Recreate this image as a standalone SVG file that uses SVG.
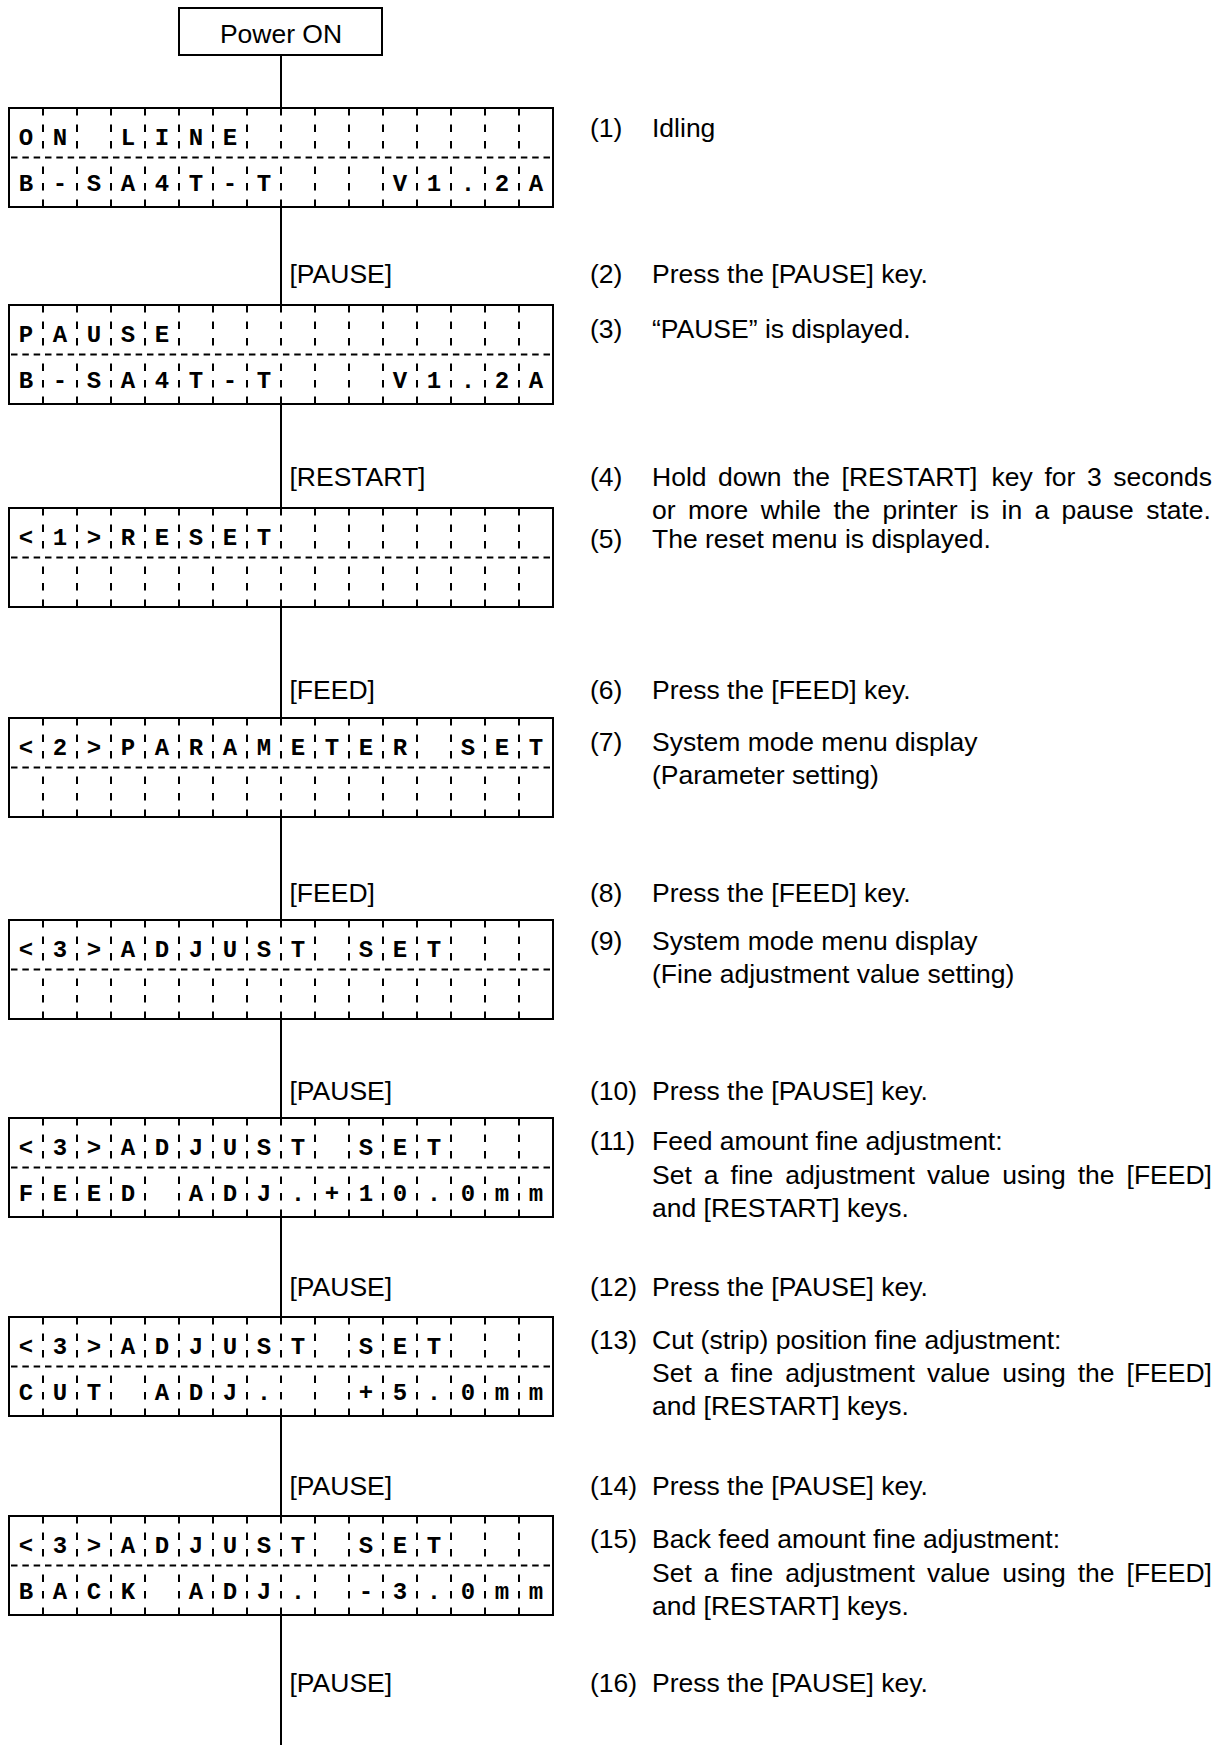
<svg xmlns="http://www.w3.org/2000/svg" xmlns:xlink="http://www.w3.org/1999/xlink" width="1223" height="1753" viewBox="0 0 1223 1753">
<style>
.box{fill:#fff;stroke:#000;stroke-width:2}
.vd{fill:none;stroke:#000;stroke-width:2;stroke-dasharray:7.5 9}
.hd{fill:none;stroke:#000;stroke-width:2;stroke-dasharray:6.5 4.83}
.lcd{font-family:"Liberation Mono","DejaVu Sans Mono",monospace;font-weight:bold;font-size:24px;text-anchor:middle;fill:#000}
.t{font-family:"Liberation Sans",Arial,sans-serif;font-size:26.5px;fill:#000}
.c{text-anchor:middle}
.conn{stroke:#000;stroke-width:2;fill:none}
</style>
<defs>
<g id="grid">
<rect class="box" x="0" y="0" width="544" height="99"/>
<path class="vd" d="M34 0V49.5M68 0V49.5M102 0V49.5M136 0V49.5M170 0V49.5M204 0V49.5M238 0V49.5M272 0V49.5M306 0V49.5M340 0V49.5M374 0V49.5M408 0V49.5M442 0V49.5M476 0V49.5M510 0V49.5"/>
<path class="vd" d="M34 99V49.5M68 99V49.5M102 99V49.5M136 99V49.5M170 99V49.5M204 99V49.5M238 99V49.5M272 99V49.5M306 99V49.5M340 99V49.5M374 99V49.5M408 99V49.5M442 99V49.5M476 99V49.5M510 99V49.5"/>
<path class="hd" d="M2 49.5H543"/>
</g>
</defs>

<g id="connectors">
<path class="conn" d="M281 55V108M281 207V305M281 404V508M281 607V718M281 817V920M281 1019V1118M281 1217V1317M281 1416V1516M281 1615V1745"/>
</g>

<g id="power-on">
<rect class="box" x="179" y="8" width="203" height="47"/>
<text class="t c" x="281" y="43">Power ON</text>
</g>

<g id="lcd1" transform="translate(9 108)">
<use xlink:href="#grid"/>
<text class="lcd" x="17 51 119 153 187 221" y="36.5">ONLINE</text>
<text class="lcd" x="17 51 85 119 153 187 221 255 391 425 459 493 527" y="82.5">B-SA4T-TV1.2A</text>
</g>

<g id="lcd2" transform="translate(9 305)">
<use xlink:href="#grid"/>
<text class="lcd" x="17 51 85 119 153" y="36.5">PAUSE</text>
<text class="lcd" x="17 51 85 119 153 187 221 255 391 425 459 493 527" y="82.5">B-SA4T-TV1.2A</text>
</g>

<g id="lcd3" transform="translate(9 508)">
<use xlink:href="#grid"/>
<text class="lcd" x="17 51 85 119 153 187 221 255" y="36.5">&lt;1&gt;RESET</text>
</g>

<g id="lcd4" transform="translate(9 718)">
<use xlink:href="#grid"/>
<text class="lcd" x="17 51 85 119 153 187 221 255 289 323 357 391 459 493 527" y="36.5">&lt;2&gt;PARAMETERSET</text>
</g>

<g id="lcd5" transform="translate(9 920)">
<use xlink:href="#grid"/>
<text class="lcd" x="17 51 85 119 153 187 221 255 289 357 391 425" y="36.5">&lt;3&gt;ADJUSTSET</text>
</g>

<g id="lcd6" transform="translate(9 1118)">
<use xlink:href="#grid"/>
<text class="lcd" x="17 51 85 119 153 187 221 255 289 357 391 425" y="36.5">&lt;3&gt;ADJUSTSET</text>
<text class="lcd" x="17 51 85 119 187 221 255 289 323 357 391 425 459 493 527" y="82.5">FEEDADJ.+10.0mm</text>
</g>

<g id="lcd7" transform="translate(9 1317)">
<use xlink:href="#grid"/>
<text class="lcd" x="17 51 85 119 153 187 221 255 289 357 391 425" y="36.5">&lt;3&gt;ADJUSTSET</text>
<text class="lcd" x="17 51 85 153 187 221 255 357 391 425 459 493 527" y="82.5">CUTADJ.+5.0mm</text>
</g>

<g id="lcd8" transform="translate(9 1516)">
<use xlink:href="#grid"/>
<text class="lcd" x="17 51 85 119 153 187 221 255 289 357 391 425" y="36.5">&lt;3&gt;ADJUSTSET</text>
<text class="lcd" x="17 51 85 119 187 221 255 289 357 391 425 459 493 527" y="82.5">BACKADJ.-3.0mm</text>
</g>

<g id="key-labels">
<text class="t" x="289.5" y="283">[PAUSE]</text>
<text class="t" x="289.5" y="486">[RESTART]</text>
<text class="t" x="289.5" y="699">[FEED]</text>
<text class="t" x="289.5" y="902">[FEED]</text>
<text class="t" x="289.5" y="1100">[PAUSE]</text>
<text class="t" x="289.5" y="1296">[PAUSE]</text>
<text class="t" x="289.5" y="1495">[PAUSE]</text>
<text class="t" x="289.5" y="1692">[PAUSE]</text>
</g>

<g id="steps">
<text class="t" x="590" y="137">(1)</text><text class="t" x="652" y="137">Idling</text>
<text class="t" x="590" y="283">(2)</text><text class="t" x="652" y="283">Press the [PAUSE] key.</text>
<text class="t" x="590" y="338">(3)</text><text class="t" x="652" y="338">“PAUSE” is displayed.</text>
<text class="t" x="590" y="486">(4)</text>
<text class="t" y="486"><tspan x="652">Hold</tspan><tspan x="718.1">down</tspan><tspan x="793.06">the</tspan><tspan x="841.52">[RESTART]</tspan><tspan x="991.55">key</tspan><tspan x="1044.4">for</tspan><tspan x="1086.95">3</tspan><tspan x="1113.3">seconds</tspan></text>
<text class="t" y="519"><tspan x="652">or</tspan><tspan x="687.92">more</tspan><tspan x="760.65">while</tspan><tspan x="833.38">the</tspan><tspan x="882.58">printer</tspan><tspan x="970.04">is</tspan><tspan x="1001.53">in</tspan><tspan x="1034.51">a</tspan><tspan x="1061.6">pause</tspan><tspan x="1146.15">state.</tspan></text>
<text class="t" x="590" y="548">(5)</text><text class="t" x="652" y="548">The reset menu is displayed.</text>
<text class="t" x="590" y="699">(6)</text><text class="t" x="652" y="699">Press the [FEED] key.</text>
<text class="t" x="590" y="751">(7)</text><text class="t" x="652" y="751">System mode menu display</text>
<text class="t" x="652" y="784">(Parameter setting)</text>
<text class="t" x="590" y="902">(8)</text><text class="t" x="652" y="902">Press the [FEED] key.</text>
<text class="t" x="590" y="950">(9)</text><text class="t" x="652" y="950">System mode menu display</text>
<text class="t" x="652" y="983">(Fine adjustment value setting)</text>
<text class="t" x="590" y="1100">(10)</text><text class="t" x="652" y="1100">Press the [PAUSE] key.</text>
<text class="t" x="590" y="1150">(11)</text><text class="t" x="652" y="1150">Feed amount fine adjustment:</text>
<text class="t" y="1184"><tspan x="652">Set</tspan><tspan x="703.81">a</tspan><tspan x="730.57">fine</tspan><tspan x="785.32">adjustment</tspan><tspan x="926.96">value</tspan><tspan x="1002.33">using</tspan><tspan x="1077.7">the</tspan><tspan x="1126.57">[FEED]</tspan></text>
<text class="t" x="652" y="1217">and [RESTART] keys.</text>
<text class="t" x="590" y="1296">(12)</text><text class="t" x="652" y="1296">Press the [PAUSE] key.</text>
<text class="t" x="590" y="1349">(13)</text><text class="t" x="652" y="1349">Cut (strip) position fine adjustment:</text>
<text class="t" y="1382"><tspan x="652">Set</tspan><tspan x="703.81">a</tspan><tspan x="730.57">fine</tspan><tspan x="785.32">adjustment</tspan><tspan x="926.96">value</tspan><tspan x="1002.33">using</tspan><tspan x="1077.7">the</tspan><tspan x="1126.57">[FEED]</tspan></text>
<text class="t" x="652" y="1415">and [RESTART] keys.</text>
<text class="t" x="590" y="1495">(14)</text><text class="t" x="652" y="1495">Press the [PAUSE] key.</text>
<text class="t" x="590" y="1548">(15)</text><text class="t" x="652" y="1548">Back feed amount fine adjustment:</text>
<text class="t" y="1582"><tspan x="652">Set</tspan><tspan x="703.81">a</tspan><tspan x="730.57">fine</tspan><tspan x="785.32">adjustment</tspan><tspan x="926.96">value</tspan><tspan x="1002.33">using</tspan><tspan x="1077.7">the</tspan><tspan x="1126.57">[FEED]</tspan></text>
<text class="t" x="652" y="1615">and [RESTART] keys.</text>
<text class="t" x="590" y="1692">(16)</text><text class="t" x="652" y="1692">Press the [PAUSE] key.</text>
</g>
</svg>
